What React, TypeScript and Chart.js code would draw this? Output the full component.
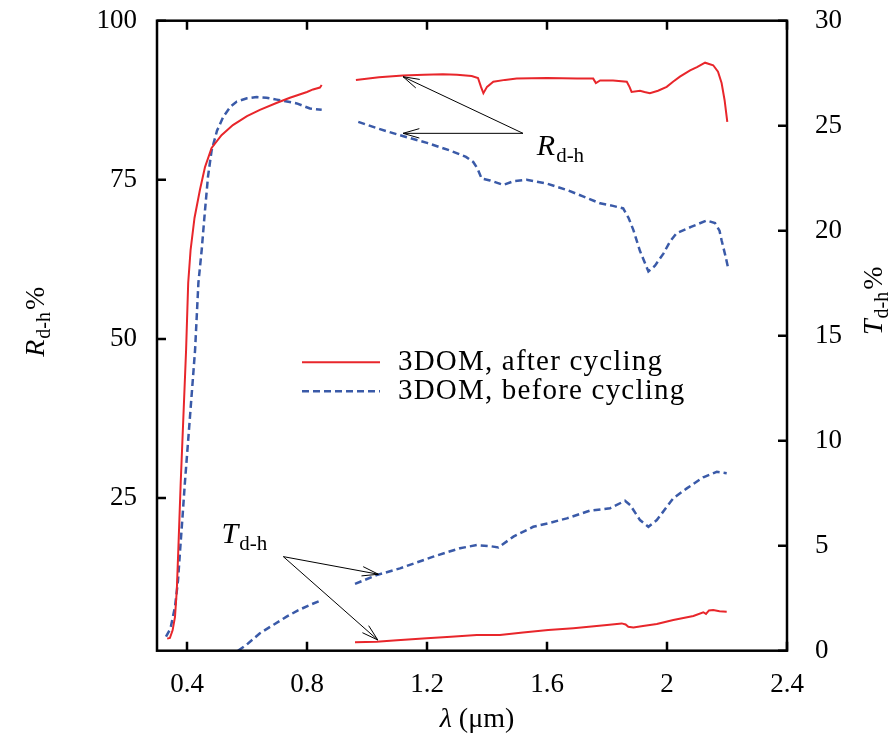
import { useEffect, useRef } from "react";
import { Chart, registerables } from "chart.js";

Chart.register(...registerables);

const FONT = '"Liberation Serif", "Times New Roman", serif';

// ---- axis ticks ----
const xTicks = [0.4, 0.8, 1.2, 1.6, 2.0, 2.4];
const xTickLabels = ["0.4", "0.8", "1.2", "1.6", "2", "2.4"];
const rTicks = [25, 50, 75, 100];
const rTickLabels = ["25", "50", "75", "100"];
const tTicks = [0, 5, 10, 15, 20, 25, 30];
const tTickLabels = ["0", "5", "10", "15", "20", "25", "30"];

// ---- R (diffuse reflectance, left axis), after cycling ----
const rAfterX = [
  0.334, 0.343, 0.352, 0.36, 0.366, 0.371, 0.379, 0.388, 0.397, 0.404, 0.412, 0.425, 0.443, 0.46, 0.482,
  0.515, 0.553, 0.6, 0.643, 0.7, 0.743, 0.8, 0.82, 0.843, 0.849,
  0.9,
  0.963, 1.04, 1.12, 1.19, 1.253, 1.3, 1.349, 1.37, 1.38, 1.388, 1.4, 1.421, 1.46, 1.499, 1.6, 1.7, 1.754,
  1.763, 1.777, 1.82, 1.866, 1.875, 1.882, 1.91, 1.925, 1.943, 1.97, 1.999, 2.02, 2.043, 2.077, 2.1, 2.127,
  2.154, 2.17, 2.182, 2.192, 2.201,
];
const rAfterY = [
  2.9, 3.0, 4.2, 6.3, 10.5, 16.8, 27.4, 37.8, 48.3, 58.8, 64.0, 69.0, 73.4, 77.0, 80.0,
  82.0, 83.6, 85.0, 86.0, 87.1, 87.9, 88.8, 89.2, 89.5, 89.9,
  null,
  90.7, 91.1, 91.4, 91.5, 91.6, 91.5, 91.3, 91.0, 89.6, 88.6, 89.6, 90.4, 90.7, 90.9, 91.0, 90.9, 90.9,
  90.2, 90.6, 90.6, 90.4, 89.6, 88.8, 89.0, 88.8, 88.6, 89.0, 89.6, 90.4, 91.2, 92.2, 92.7, 93.4,
  93.0, 92.0, 90.2, 87.5, 84.1,
];

// ---- R, before cycling ----
const rBeforeX = [
  0.33, 0.345, 0.36, 0.37, 0.377, 0.385, 0.393, 0.41, 0.427, 0.438, 0.449, 0.46, 0.47, 0.482, 0.5, 0.521,
  0.545, 0.566, 0.6, 0.632, 0.665, 0.699, 0.766, 0.81, 0.849,
  0.9,
  0.971, 1.04, 1.11, 1.2, 1.277, 1.33, 1.354, 1.368, 1.382, 1.41, 1.454, 1.49, 1.532, 1.6, 1.666, 1.72,
  1.777, 1.82, 1.854, 1.872, 1.888, 1.91, 1.938, 1.96, 1.988, 2.01, 2.032, 2.08, 2.132, 2.16, 2.175,
  2.182, 2.195, 2.204,
];
const rBeforeY = [
  3.2, 4.5, 7.9, 12.0, 16.8, 22.0, 27.4, 37.8, 48.3, 58.8, 64.0, 70.2, 75.5, 79.6, 82.7, 84.9,
  86.5, 87.3, 87.8, 88.0, 87.9, 87.6, 87.0, 86.2, 86.0,
  null,
  84.1, 83.0, 82.0, 80.8, 79.6, 78.6, 77.8, 76.8, 75.2, 74.9, 74.2, 74.8, 75.0, 74.4, 73.4, 72.4,
  71.3, 70.9, 70.5, 69.0, 67.1, 63.8, 60.6, 61.5, 63.4, 65.3, 66.6, 67.6, 68.6, 68.2, 67.0,
  65.5, 63.0, 61.1,
];

// ---- T (diffuse transmittance, right axis), before cycling ----
const tBeforeX = [
  0.57, 0.6, 0.643, 0.69, 0.732, 0.77, 0.81, 0.849,
  0.9,
  0.96, 1.032, 1.11, 1.221, 1.31, 1.366, 1.41, 1.438, 1.488, 1.554, 1.604, 1.666, 1.743, 1.81, 1.86,
  1.877, 1.91, 1.938, 1.966, 2.021, 2.066, 2.121, 2.166, 2.199,
];
const tBeforeY = [
  0.0, 0.3, 0.83, 1.25, 1.62, 1.92, 2.18, 2.41,
  null,
  3.18, 3.6, 3.92, 4.48, 4.88, 5.03, 4.98, 4.92, 5.43, 5.9, 6.07, 6.3, 6.67, 6.78, 7.14,
  6.94, 6.22, 5.9, 6.22, 7.26, 7.73, 8.26, 8.52, 8.45,
];

// ---- T, after cycling ----
const tAfterX = [
  0.96, 1.032, 1.1, 1.199, 1.28, 1.366, 1.443, 1.52, 1.604, 1.688, 1.8, 1.849, 1.862, 1.871, 1.888, 1.92,
  1.966, 2.021, 2.088, 2.121, 2.13, 2.14, 2.154, 2.175, 2.199,
];
const tAfterY = [
  0.4, 0.43, 0.5, 0.59, 0.67, 0.75, 0.75, 0.87, 0.98, 1.07, 1.22, 1.3, 1.25, 1.14, 1.11, 1.18,
  1.27, 1.46, 1.65, 1.83, 1.75, 1.92, 1.94, 1.88, 1.86,
];

const legendLabels = ["3DOM, after cycling", "3DOM, before cycling"];

// annotation anchors in data coordinates
const rArrowTail = [1.52, 82.3];
const rArrowHeads = [
  [1.12, 91.2],
  [1.12, 82.3],
];
const rLabelPos = [1.566, 78.9];
const tArrowTail = [0.721, 4.48];
const tArrowHeads = [
  [1.038, 3.64],
  [1.036, 0.51],
];
const tLabelPos = [0.515, 5.13];

const RED = "#e8262b";
const BLUE = "#3a5aa8";
const DASH = [7, 4];

const toPts = (xs: number[], ys: (number | null)[]) => xs.map((x, i) => ({ x, y: ys[i] }));

function drawSubText(
  ctx: CanvasRenderingContext2D,
  x: number,
  y: number,
  main: string,
  sub: string,
  tail: string,
  size: number,
  measureOnly = false
) {
  const subSize = Math.round(size * 0.7);
  ctx.font = `italic ${size}px ${FONT}`;
  const w1 = ctx.measureText(main).width;
  ctx.font = `${subSize}px ${FONT}`;
  const w2 = ctx.measureText(sub).width;
  ctx.font = `${size}px ${FONT}`;
  const w3 = tail ? ctx.measureText(tail).width + 2 : 0;
  if (!measureOnly) {
    ctx.font = `italic ${size}px ${FONT}`;
    ctx.fillText(main, x, y);
    ctx.font = `${subSize}px ${FONT}`;
    ctx.fillText(sub, x + w1 + 1, y + size * 0.22);
    if (tail) {
      ctx.font = `${size}px ${FONT}`;
      ctx.fillText(tail, x + w1 + w2 + 3, y);
    }
  }
  return w1 + w2 + w3 + 1;
}

function arrow(ctx: CanvasRenderingContext2D, x0: number, y0: number, x1: number, y1: number) {
  const ang = Math.atan2(y1 - y0, x1 - x0);
  const L = 17;
  const h = 0.28;
  ctx.beginPath();
  ctx.moveTo(x0, y0);
  ctx.lineTo(x1, y1);
  ctx.moveTo(x1 - L * Math.cos(ang - h), y1 - L * Math.sin(ang - h));
  ctx.lineTo(x1, y1);
  ctx.lineTo(x1 - L * Math.cos(ang + h), y1 - L * Math.sin(ang + h));
  ctx.stroke();
}

const decorPlugin = {
  id: "decor",
  afterDatasetsDraw(chart: any) {
    const { ctx, chartArea: a, scales } = chart;
    const xs = scales.x;
    const yl = scales.y;
    const yr = scales.y2;
    ctx.save();

    // annotations
    ctx.strokeStyle = "#000";
    ctx.lineWidth = 1;
    const rtx = xs.getPixelForValue(rArrowTail[0]);
    const rty = yl.getPixelForValue(rArrowTail[1]);
    rArrowHeads.forEach(([hx, hy]) => arrow(ctx, rtx, rty, xs.getPixelForValue(hx), yl.getPixelForValue(hy)));
    const ttx = xs.getPixelForValue(tArrowTail[0]);
    const tty = yr.getPixelForValue(tArrowTail[1]);
    tArrowHeads.forEach(([hx, hy]) => arrow(ctx, ttx, tty, xs.getPixelForValue(hx), yr.getPixelForValue(hy)));

    ctx.fillStyle = "#000";
    ctx.textAlign = "left";
    ctx.textBaseline = "alphabetic";
    drawSubText(ctx, xs.getPixelForValue(rLabelPos[0]), yl.getPixelForValue(rLabelPos[1]), "R", "d-h", "", 30);
    drawSubText(ctx, xs.getPixelForValue(tLabelPos[0]), yr.getPixelForValue(tLabelPos[1]), "T", "d-h", "", 30);

    // legend
    const lx0 = a.left + 145;
    const lx1 = a.left + 223;
    const rows = [a.top + 341.5, a.top + 370.5];
    ctx.lineWidth = 2;
    ctx.strokeStyle = RED;
    ctx.beginPath();
    ctx.moveTo(lx0, rows[0]);
    ctx.lineTo(lx1, rows[0]);
    ctx.stroke();
    ctx.lineWidth = 2.5;
    ctx.strokeStyle = BLUE;
    ctx.setLineDash(DASH);
    ctx.beginPath();
    ctx.moveTo(lx0, rows[1]);
    ctx.lineTo(lx1, rows[1]);
    ctx.stroke();
    ctx.setLineDash([]);
    ctx.font = `29px ${FONT}`;
    (ctx as any).letterSpacing = "1.2px";
    legendLabels.forEach((t, i) => ctx.fillText(t, a.left + 241, rows[i] + 8));
    (ctx as any).letterSpacing = "0px";

    // frame
    ctx.strokeStyle = "#000";
    ctx.lineWidth = 2.5;
    ctx.strokeRect(a.left, a.top, a.right - a.left, a.bottom - a.top);

    // inward tick marks
    const tl = 9;
    ctx.beginPath();
    xTicks.forEach((v) => {
      const px = xs.getPixelForValue(v);
      ctx.moveTo(px, a.bottom);
      ctx.lineTo(px, a.bottom - tl);
      ctx.moveTo(px, a.top);
      ctx.lineTo(px, a.top + tl);
    });
    rTicks.forEach((v) => {
      const py = yl.getPixelForValue(v);
      ctx.moveTo(a.left, py);
      ctx.lineTo(a.left + tl, py);
    });
    tTicks.forEach((v) => {
      const py = yr.getPixelForValue(v);
      ctx.moveTo(a.right, py);
      ctx.lineTo(a.right - tl, py);
    });
    ctx.stroke();

    // axis titles
    ctx.fillStyle = "#000";
    // left
    ctx.save();
    ctx.translate(a.left - 113, (a.top + a.bottom) / 2 - 14);
    ctx.rotate(-Math.PI / 2);
    let w = drawSubText(ctx, 0, 0, "R", "d-h", "%", 28, true);
    drawSubText(ctx, -w / 2, 0, "R", "d-h", "%", 28);
    ctx.restore();
    // right
    ctx.save();
    ctx.translate(a.right + 95, (a.top + a.bottom) / 2 - 35);
    ctx.rotate(-Math.PI / 2);
    w = drawSubText(ctx, 0, 0, "T", "d-h", "%", 28, true);
    drawSubText(ctx, -w / 2, 0, "T", "d-h", "%", 28);
    ctx.restore();
    // bottom
    ctx.font = `italic 28px ${FONT}`;
    const lw = ctx.measureText("λ").width;
    ctx.font = `28px ${FONT}`;
    const rest = " (μm)";
    const rw = ctx.measureText(rest).width;
    const cx = (a.left + a.right) / 2 - (lw + rw) / 2 + 5;
    const by = a.bottom + 76;
    ctx.font = `italic 28px ${FONT}`;
    ctx.fillText("λ", cx, by);
    ctx.font = `28px ${FONT}`;
    ctx.fillText(rest, cx + lw, by);

    ctx.restore();
  },
};

const noPadY = (w: number) => (s: any) => {
  s.width = w;
  s.paddingTop = 0;
  s.paddingBottom = 0;
};

export default function App() {
  const ref = useRef<HTMLCanvasElement>(null);

  useEffect(() => {
    if (!ref.current) return;
    const tickFont = { family: FONT, size: 27 };
    const chart = new Chart(ref.current, {
      type: "line",
      data: {
        datasets: [
          {
            label: legendLabels[0],
            data: toPts(rAfterX, rAfterY),
            yAxisID: "y",
            borderColor: RED,
            borderWidth: 2,
            pointRadius: 0,
            spanGaps: false,
            tension: 0,
          },
          {
            label: legendLabels[1],
            data: toPts(rBeforeX, rBeforeY),
            yAxisID: "y",
            borderColor: BLUE,
            borderWidth: 2.5,
            borderDash: DASH,
            pointRadius: 0,
            spanGaps: false,
            tension: 0,
          },
          {
            label: legendLabels[1] + " T",
            data: toPts(tBeforeX, tBeforeY),
            yAxisID: "y2",
            borderColor: BLUE,
            borderWidth: 2.5,
            borderDash: DASH,
            pointRadius: 0,
            spanGaps: false,
            tension: 0,
          },
          {
            label: legendLabels[0] + " T",
            data: toPts(tAfterX, tAfterY),
            yAxisID: "y2",
            borderColor: RED,
            borderWidth: 2,
            pointRadius: 0,
            spanGaps: false,
            tension: 0,
          },
        ],
      },
      options: {
        animation: false,
        responsive: false,
        events: [],
        layout: { padding: { top: 20.7, left: 0, right: 0, bottom: 0 } },
        plugins: { legend: { display: false }, tooltip: { enabled: false } },
        scales: {
          x: {
            type: "linear",
            min: 0.3,
            max: 2.4,
            afterBuildTicks: (s: any) => {
              s.ticks = xTicks.map((v) => ({ value: v }));
            },
            afterFit: (s: any) => {
              s.height = 93.3;
              s.paddingLeft = 0;
              s.paddingRight = 0;
            },
            ticks: {
              font: tickFont,
              color: "#000",
              padding: 18,
              maxRotation: 0,
              autoSkip: false,
              callback: (_v: any, i: number) => xTickLabels[i],
            },
            grid: { display: false, drawTicks: false },
            border: { display: false },
          },
          y: {
            type: "linear",
            position: "left",
            min: 1,
            max: 100,
            afterBuildTicks: (s: any) => {
              s.ticks = rTicks.map((v) => ({ value: v }));
            },
            afterFit: noPadY(157),
            ticks: {
              font: tickFont,
              color: "#000",
              padding: 20,
              autoSkip: false,
              callback: (_v: any, i: number) => rTickLabels[i],
            },
            grid: { display: false, drawTicks: false },
            border: { display: false },
          },
          y2: {
            type: "linear",
            position: "right",
            min: 0,
            max: 30,
            afterBuildTicks: (s: any) => {
              s.ticks = tTicks.map((v) => ({ value: v }));
            },
            afterFit: noPadY(109),
            ticks: {
              font: tickFont,
              color: "#000",
              padding: 28,
              autoSkip: false,
              callback: (_v: any, i: number) => tTickLabels[i],
            },
            grid: { display: false, drawTicks: false },
            border: { display: false },
          },
        },
      },
      plugins: [decorPlugin],
    });
    return () => chart.destroy();
  }, []);

  return (
    <div style={{ position: "fixed", left: 0, top: 0, width: 896, height: 744, background: "#fff" }}>
      <canvas ref={ref} width={896} height={744} style={{ display: "block" }} />
    </div>
  );
}
